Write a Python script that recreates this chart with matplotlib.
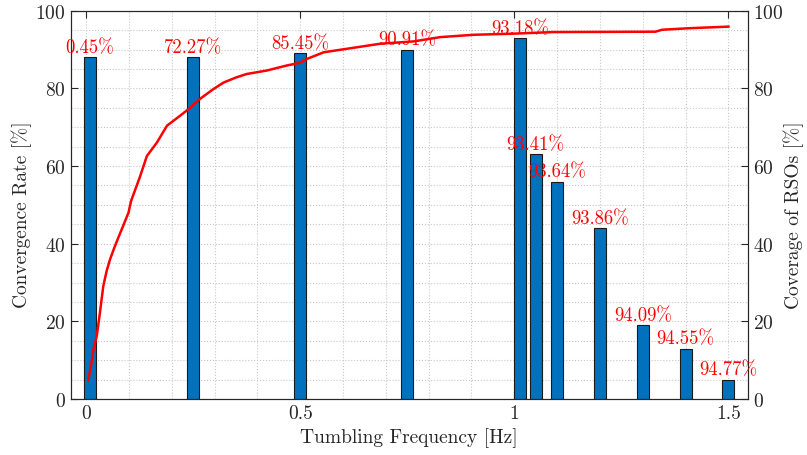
import numpy as np
import matplotlib
matplotlib.use("Agg")
import matplotlib.pyplot as plt
from matplotlib.ticker import MultipleLocator

plt.rcParams['font.family'] = 'serif'
plt.rcParams['font.serif'] = ['cmr10']
plt.rcParams['mathtext.fontset'] = 'cm'
plt.rcParams['axes.unicode_minus'] = False
plt.rcParams['axes.formatter.use_mathtext'] = True

# convergence rate per tumbling frequency
freq = [0.008, 0.25, 0.5, 0.75, 1.014, 1.05, 1.1, 1.2, 1.3, 1.4, 1.5]
conv_rate = [88, 88, 89, 90, 93, 63, 56, 44, 19, 13, 5]
bar_labels = ["0.45%", "72.27%", "85.45%", "90.91%", "93.18%", "93.41%",
              "93.64%", "93.86%", "94.09%", "94.55%", "94.77%"]

# cumulative coverage of RSOs
cov_freq = [0.005, 0.012, 0.017, 0.025, 0.032, 0.04, 0.048, 0.056, 0.066, 0.075,
            0.088, 0.099, 0.105, 0.115, 0.125, 0.142, 0.165, 0.189, 0.22, 0.243,
            0.266, 0.297, 0.321, 0.35, 0.375, 0.422, 0.469, 0.5, 0.516, 0.555,
            0.609, 0.687, 0.765, 0.827, 0.905, 1.0, 1.09, 1.33, 1.345, 1.41, 1.5]
coverage = [4.7, 9, 12.7, 16.3, 22, 29, 33, 36, 39, 41.5,
            45, 48, 51, 54, 57, 62.6, 66, 70.4, 73, 75,
            77.3, 79.8, 81.5, 82.8, 83.7, 84.6, 85.9, 86.6, 87.6, 89.3,
            90.2, 91.5, 92.1, 93.2, 93.8, 94.1, 94.5, 94.6, 95.1, 95.5, 95.9]

axis_col = '#262626'
fs = 14
fs_lab = 13.5

fig = plt.figure(figsize=(8.07, 4.56), dpi=100)
ax = fig.add_axes([0.0876, 0.1228, 0.9265 - 0.0876, 0.9743 - 0.1228])

ax.bar(freq, conv_rate, width=0.028, color='#0072BD', edgecolor='#1a1a1a',
       linewidth=0.8, zorder=2)
ax.set_xlim(-0.036, 1.545)
ax.set_ylim(0, 100)
ax.set_xticks([0, 0.5, 1, 1.5])
ax.set_xticklabels(['0', '0.5', '1', '1.5'])
ax.set_yticks(range(0, 101, 20))
ax.xaxis.set_minor_locator(MultipleLocator(0.1))
ax.yaxis.set_minor_locator(MultipleLocator(5))
ax.grid(which='both', linestyle=':', color='#c8c8c8', linewidth=0.8)
ax.set_axisbelow(True)
ax.tick_params(which='major', direction='in', top=True, length=5,
               labelsize=fs, colors=axis_col)
ax.tick_params(which='minor', length=0)
ax.set_xlabel('Tumbling Frequency [Hz]', fontsize=fs, color=axis_col)
ax.set_ylabel('Convergence Rate [%]', fontsize=fs, color=axis_col)
ax.yaxis.set_label_coords(-0.057, 0.477)

ax2 = ax.twinx()
ax2.plot(cov_freq, coverage, color='red', linewidth=1.8, zorder=3)
ax2.set_ylim(0, 100)
ax2.set_yticks(range(0, 101, 20))
ax2.tick_params(direction='in', length=5, labelsize=fs, colors=axis_col)
ax2.set_ylabel('Coverage of RSOs [%]', fontsize=fs, color=axis_col)
ax2.yaxis.set_label_coords(1.053, 0.477)

for x, h, lab in zip(freq, conv_rate, bar_labels):
    ax2.text(x, h + 1.3, lab, ha='center', va='baseline', color='red',
             fontsize=fs_lab, zorder=4)

for a in (ax, ax2):
    for s in a.spines.values():
        s.set_color(axis_col)
        s.set_linewidth(0.8)

fig.savefig('out.png', dpi=100)
